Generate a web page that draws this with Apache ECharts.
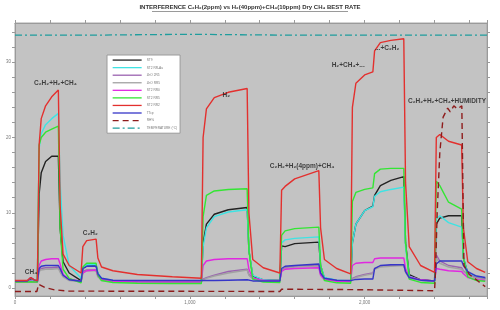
<!DOCTYPE html>
<html>
<head>
<meta charset="utf-8">
<script src="https://cdn.jsdelivr.net/npm/echarts@6/dist/echarts.min.js"></script>
<style>
  html, body { margin: 0; padding: 0; background: #fff; }
  #chart { width: 500px; height: 310px; }
</style>
</head>
<body>
<div id="chart"></div>
<script>
// sensor sample times (s)
const seconds = [0, 70, 90, 110, 128, 138, 150, 175, 210, 248, 258, 275, 310, 378, 388, 410, 464, 474, 495, 560,
  700, 900, 1066, 1076, 1095, 1140, 1220, 1328, 1338, 1360, 1420, 1515, 1525, 1545, 1600, 1738, 1748, 1770, 1840, 1920,
  1930, 1950, 2000, 2047, 2057, 2090, 2150, 2224, 2234, 2255, 2320, 2400, 2410, 2430, 2480, 2555, 2565, 2590, 2640, 2690];

const st9 = [0.85, 0.85, 1.1, 0.9, 0.85, 12.5, 15.3, 16.8, 17.5, 17.5, 8, 3.5, 2.0, 1.0, 2.6, 2.9, 3.0, 1.9, 1.2, 0.95,
  0.9, 0.85, 0.85, 6.0, 8.5, 9.8, 10.4, 10.7, 5.0, 1.6, 1.1, 1.0, 5.6, 5.5, 5.9, 6.1, 3.0, 1.3, 1.0, 0.95,
  6.0, 8.5, 10.3, 10.9, 12.3, 13.6, 14.3, 14.8, 6.0, 1.8, 1.1, 0.95, 8.5, 9.3, 9.6, 9.6, 4.0, 2.0, 1.5, 1.3];
const st2Au = [0.9, 0.9, 1.0, 0.95, 0.9, 18.5, 20.5, 21.7, 22.5, 23.2, 14, 7.0, 3.0, 1.3, 2.6, 3.1, 3.1, 2.0, 1.3, 1.0,
  0.9, 0.85, 0.85, 5.5, 8.0, 9.5, 10.1, 10.4, 5.0, 1.7, 1.1, 1.0, 6.0, 6.4, 6.6, 6.8, 3.0, 1.4, 1.05, 0.95,
  6.0, 8.5, 10.3, 10.8, 12.2, 12.8, 13.1, 13.4, 5.5, 1.6, 1.05, 0.9, 9.2, 9.6, 8.7, 8.1, 4.0, 2.0, 1.5, 1.3];
const zno2r5 = [0.85, 0.85, 0.9, 0.85, 0.85, 2.4, 2.6, 2.7, 2.7, 2.8, 2.3, 1.6, 1.1, 0.9, 2.2, 2.4, 2.4, 1.6, 1.1, 0.9,
  0.85, 0.85, 0.85, 1.2, 1.4, 1.7, 2.2, 2.5, 1.8, 1.3, 1.05, 1.0, 2.4, 2.7, 2.9, 3.0, 1.9, 1.25, 1.0, 0.95,
  1.3, 1.5, 1.8, 2.0, 2.6, 2.9, 3.0, 3.1, 2.2, 1.4, 1.05, 0.95, 4.4, 3.6, 3.0, 2.7, 2.3, 1.8, 1.4, 1.2];
const znoRr5 = [0.8, 0.8, 0.85, 0.8, 0.8, 2.2, 2.4, 2.5, 2.5, 2.6, 2.1, 1.5, 1.0, 0.85, 2.0, 2.3, 2.3, 1.5, 1.0, 0.85,
  0.8, 0.8, 0.8, 1.1, 1.3, 1.6, 2.0, 2.4, 1.7, 1.2, 1.0, 0.95, 2.3, 2.6, 2.8, 2.9, 1.8, 1.2, 1.0, 0.9,
  1.2, 1.4, 1.7, 1.9, 2.5, 2.8, 2.9, 3.0, 2.1, 1.3, 1.0, 0.9, 4.0, 3.3, 2.8, 2.5, 2.2, 1.7, 1.3, 1.1];
const st2Rr0 = [0.85, 0.85, 0.9, 0.85, 0.85, 3.0, 3.6, 3.8, 3.9, 3.9, 3.2, 1.8, 1.2, 0.9, 2.0, 2.3, 2.4, 1.6, 1.1, 0.9,
  0.85, 0.8, 0.8, 3.0, 3.6, 3.8, 3.9, 3.9, 2.5, 1.3, 1.0, 0.95, 2.2, 2.5, 2.6, 2.7, 1.7, 1.1, 0.9, 0.85,
  3.0, 3.3, 3.4, 3.4, 3.9, 4.0, 4.0, 4.0, 2.6, 1.5, 1.1, 0.95, 2.6, 2.5, 2.3, 2.2, 1.9, 1.4, 1.1, 1.0];
const st2Rr5 = [0.8, 0.8, 0.85, 0.8, 0.8, 19.0, 20.0, 20.7, 21.1, 21.5, 8, 2.5, 1.3, 0.7, 2.8, 3.3, 3.3, 1.7, 1.0, 0.75,
  0.65, 0.6, 0.6, 9.5, 12.3, 12.9, 13.1, 13.2, 5.0, 1.2, 0.8, 0.75, 7.0, 7.6, 7.9, 8.1, 3.0, 1.0, 0.7, 0.65,
  11.5, 12.7, 13.1, 13.3, 15.2, 15.8, 15.9, 15.9, 6.0, 1.2, 0.75, 0.65, 14.2, 13.6, 11.4, 10.5, 4.0, 1.5, 1.0, 0.9];
const st2Rr2 = [1.0, 1.0, 1.4, 1.1, 1.0, 19.0, 22.5, 24.2, 25.4, 26.3, 11, 4.5, 3.0, 2.0, 5.5, 6.3, 6.5, 4.0, 2.8, 2.3,
  1.8, 1.5, 1.3, 20.0, 23.8, 25.3, 26.0, 26.5, 10, 3.8, 2.7, 2.0, 13.0, 13.5, 14.5, 15.6, 8, 3.8, 2.6, 1.9,
  24.0, 27.2, 28.3, 28.7, 31.5, 32.6, 32.9, 33.1, 14, 5.5, 3.0, 2.1, 20.0, 20.4, 19.5, 19.0, 8, 3.5, 2.6, 2.1];
const ttcp = [0.95, 0.95, 1.4, 1.1, 0.95, 2.6, 2.9, 3.0, 3.0, 3.0, 2.6, 1.7, 1.1, 0.9, 2.6, 2.9, 2.9, 1.9, 1.3, 1.05,
  1.0, 1.0, 1.0, 0.95, 1.0, 1.0, 1.05, 1.1, 1.0, 0.95, 0.95, 0.95, 2.6, 2.9, 3.0, 3.2, 2.0, 1.3, 1.05, 1.0,
  1.1, 1.15, 1.2, 1.2, 2.6, 3.0, 3.1, 3.1, 2.2, 1.4, 1.05, 0.95, 3.2, 3.6, 3.6, 3.6, 3.0, 2.2, 1.6, 1.4];

// humidity log
const rhSeconds = [0, 125, 135, 145, 170, 220, 300, 1515, 1525, 1920, 1930, 2400, 2405, 2415, 2430, 2449, 2475, 2490,
  2510, 2530, 2556, 2568, 2600, 2650, 2690];
const rh = [-0.45, -0.45, 0.5, 0.4, 0.1, -0.2, -0.4, -0.45, -0.15, -0.2, -0.35, -0.35, 2, 10, 18, 22.7, 23.9, 23.4,
  24.2, 23.8, 24.2, 3, 1.8, 0.9, 0.2];

// temperature log
const tempSeconds = [0, 500, 1000, 1500, 2000, 2500, 2700];
const temperature = [33.6, 33.6, 33.7, 33.6, 33.6, 33.6, 33.6];

const xLabelValues = [0, 1000, 2000];
const yLabelValues = [0, 10, 20, 30];
const yTickValues = [0, 2, 4, 6, 8, 10, 12, 14, 16, 18, 20, 22, 24, 26, 28, 30, 32, 34];

const noteTexts = ['CH₄', 'C₂H₂+H₂+CH₄', 'C₂H₂', 'H₂', 'C₂H₂+H₂(4ppm)+CH₄', 'H₂+CH₄+...', '...+C₂H₂', 'C₂H₂+H₂+CH₄+HUMIDITY'];
const noteSeconds = [92, 231, 431, 1209, 1642, 1906, 2129, 2471];
const noteValues = [2.1, 27.2, 7.3, 25.6, 16.2, 29.6, 31.9, 24.8];

const zip = (xs, ys) => xs.map((x, i) => [x, ys[i]]);

const chart = echarts.init(document.getElementById('chart'));

const sensor = (name, color, xs, ys, extra) => Object.assign({
  name: name,
  type: 'line',
  data: zip(xs, ys),
  symbol: 'none',
  color: color,
  lineStyle: { width: 1.4, color: color },
  z: 3
}, extra || {});

const axisGrey = '#9a9a9a';
const smallLabel = { fontSize: 4.5, color: '#777', fontFamily: 'Liberation Sans' };
const yMin = -1.05, yMax = 35.2;

chart.setOption({
  animation: false,
  backgroundColor: '#fff',
  grid: {
    left: 15, right: 13, top: 23, bottom: 14,
    outerBoundsMode: 'none',
    containLabel: false,
    show: true, backgroundColor: '#c3c3c3', borderColor: '#a8a8a8', borderWidth: 1
  },
  legend: {
    orient: 'vertical',
    left: 107, top: 55,
    padding: [3, 3, 3, 5],
    itemGap: 3.4,
    itemWidth: 29, itemHeight: 5.2,
    backgroundColor: '#fff',
    borderColor: '#9a9a9a', borderWidth: 1,
    itemStyle: { opacity: 0 },
    lineStyle: { width: 1.3 },
    textStyle: { fontSize: 3.2, color: '#777', fontFamily: 'Liberation Sans' },
    data: ['ST9', 'ST2 RR-Au', 'ZnO 2R5', 'ZnO RR5', 'ST2 RR0', 'ST2 RR5', 'ST2 RR2', 'TTcp', 'RH%', 'TEMPERATURE (°C)']
  },
  xAxis: [{
    type: 'value', min: 0, max: 2700, interval: 200, position: 'bottom',
    axisLine: { show: true, onZero: false, lineStyle: { color: axisGrey } },
    axisTick: { show: true, length: 3, lineStyle: { color: axisGrey } },
    axisLabel: Object.assign({ customValues: xLabelValues, margin: 4 }, smallLabel),
    splitLine: { show: false },
    name: 'seconds', nameLocation: 'middle', nameGap: 6,
    nameTextStyle: { fontSize: 6, fontWeight: 'bold', color: '#222', fontFamily: 'Liberation Sans' }
  }, {
    type: 'value', min: 0, max: 2700, interval: 200, position: 'top',
    axisLine: { show: true, onZero: false, lineStyle: { color: axisGrey } },
    axisTick: { show: true, length: 3, lineStyle: { color: axisGrey } },
    axisLabel: { show: false },
    splitLine: { show: false }
  }],
  yAxis: [{
    type: 'value', min: yMin, max: yMax, position: 'left',
    axisLine: { show: true, onZero: false, lineStyle: { color: axisGrey } },
    axisTick: { show: true, length: 3, customValues: yTickValues, lineStyle: { color: axisGrey } },
    axisLabel: Object.assign({ customValues: yLabelValues, margin: 4 }, smallLabel),
    splitLine: { show: false },
    name: 'R', nameLocation: 'middle', nameGap: 6, nameRotate: 90,
    nameTextStyle: { fontSize: 6, fontWeight: 'bold', color: '#222', fontFamily: 'Liberation Sans' }
  }, {
    type: 'value', min: yMin, max: yMax, position: 'right',
    axisLine: { show: true, onZero: false, lineStyle: { color: axisGrey } },
    axisTick: { show: true, length: 3, customValues: yTickValues, lineStyle: { color: axisGrey } },
    axisLabel: { show: false },
    splitLine: { show: false }
  }],
  graphic: [{
    type: 'text', left: 'center', top: 4,
    style: {
      text: 'INTERFERENCE C₂H₂(2ppm) vs H₂(40ppm)+CH₄(10ppm) Dry CH₄ BEST RATE',
      font: 'bold 6px "Liberation Sans"', fill: '#333'
    }
  }, {
    type: 'line', shape: { x1: 152, y1: 11.5, x2: 348, y2: 11.5 },
    style: { stroke: '#555', lineWidth: 0.6 }
  }],
  series: [
    sensor('TEMPERATURE (°C)', '#1f9d9d', tempSeconds, temperature, { lineStyle: { width: 1.3, color: '#1f9d9d', type: [7, 3, 2, 3] } }),
    sensor('ST9', '#222222', seconds, st9),
    sensor('ST2 RR-Au', '#3fe3e3', seconds, st2Au),
    sensor('ZnO 2R5', '#9b62b0', seconds, zno2r5),
    sensor('ZnO RR5', '#a2a2a2', seconds, znoRr5),
    sensor('ST2 RR0', '#e028e0', seconds, st2Rr0),
    sensor('ST2 RR5', '#33e633', seconds, st2Rr5),
    sensor('TTcp', '#3535c8', seconds, ttcp),
    sensor('ST2 RR2', '#e3302e', seconds, st2Rr2, { z: 4 }),
    sensor('RH%', '#8e1c1c', rhSeconds, rh, { lineStyle: { width: 1.4, color: '#8e1c1c', type: [6, 4] }, z: 5 }),
    {
      name: 'notes',
      type: 'scatter',
      data: noteSeconds.map((s, i) => [s, noteValues[i], noteTexts[i]]),
      symbolSize: 1,
      itemStyle: { color: 'rgba(0,0,0,0)' },
      z: 6,
      label: {
        show: true, position: 'inside',
        formatter: p => p.data[2],
        fontSize: 6.5, fontWeight: 'bold', color: '#1a1a1a', fontFamily: 'Liberation Sans'
      }
    }
  ]
});
</script>
</body>
</html>
